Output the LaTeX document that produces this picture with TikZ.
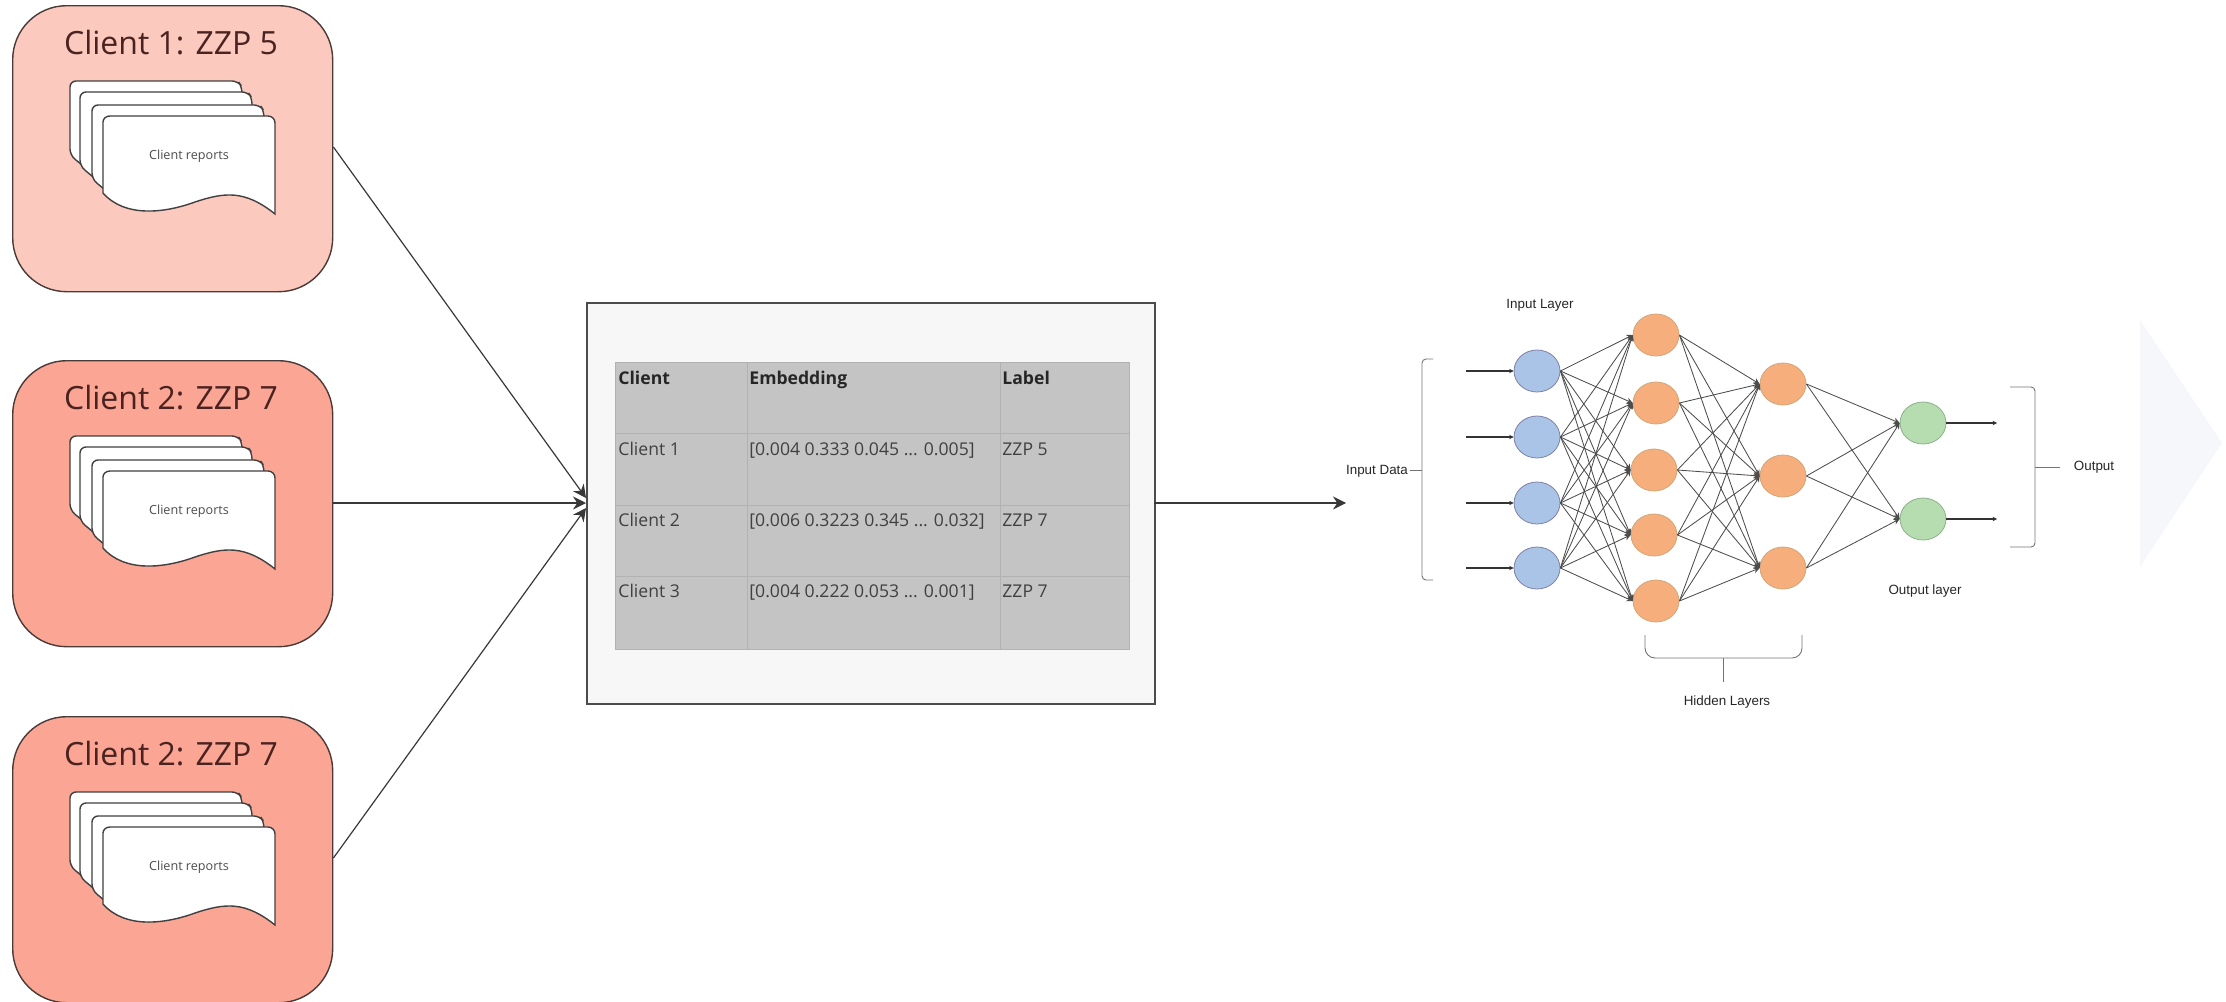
\documentclass[tikz,border=0pt]{standalone}
\usepackage{fontspec}
\setmainfont{Open Sans}
\newfontfamily\armo{Liberation Sans}
\usetikzlibrary{arrows.meta,shapes.geometric,calc}
\definecolor{paleA}{HTML}{FCC9BF}
\definecolor{paleB}{HTML}{FBA594}
\definecolor{edgeC}{HTML}{4A3A38}
\definecolor{titleC}{HTML}{4A2320}
\definecolor{blueN}{HTML}{A9C4E6}
\definecolor{orangeN}{HTML}{F6AE7C}
\definecolor{greenN}{HTML}{B5DDB0}
\definecolor{chevC}{HTML}{F6F7FA}
\tikzset{
 x=0.5pt,y=-0.5pt,
 clientbox/.style={draw=edgeC,line width=0.7pt,rounded corners=27pt},
 titletext/.style={text=titleC,font=\fontsize{16}{18}\selectfont,inner sep=0pt},
 sheet/.style={draw=black!75,line width=0.7pt,fill=white,rounded corners=3pt},
 smalltext/.style={text=black!70,font=\fontsize{6.3}{7}\selectfont,inner sep=0pt},
 tabletext/.style={text=black!75,font=\fontsize{8.8}{10}\selectfont,inner sep=0pt,anchor=base west},
 tablehead/.style={text=black!85,font=\fontsize{8.8}{10}\selectfont\bfseries,inner sep=0pt,anchor=base west},
 tableline/.style={draw=black!30,line width=0.3pt},
 conn/.style={draw=black!78,line width=0.6pt,-{Stealth[length=6.5pt,width=6.5pt]}},
 neuron/.style={ellipse,minimum width=23pt,minimum height=21pt,inner sep=0pt,line width=0.4pt},
 inN/.style={neuron,draw=blue!30!black!50,fill=blueN},
 hidN/.style={neuron,draw=brown!70,fill=orangeN},
 outN/.style={neuron,draw=green!30!black!45,fill=greenN},
 nnedge/.style={draw=black!70,line width=0.42pt,-{Stealth[length=3pt,width=3pt]}},
 nnarrow/.style={draw=black!80,line width=0.55pt,-{Stealth[length=2.2pt,width=2.2pt]}},
 brack/.style={draw=black!55,line width=0.45pt,rounded corners=2pt},
 nntext/.style={text=black!85,font=\armo\fontsize{6.7}{8}\selectfont,inner sep=0pt},
}
\newcommand{\clientpanel}[4]{% name, top y, fill, title
 \node[clientbox,fill=#3,minimum width=160pt,minimum height=143pt,inner sep=0pt,anchor=north west] (#1) at (12,#2) {};
 \node[titletext] at (171,{#2+38}) {#4};
 \begin{scope}[yshift={-(#2-5)*0.5pt}]
 \foreach \ox/\oy in {70/81,80/92,92/105}{
  \path[sheet] (\ox,\oy) -- ({\ox+168},\oy) -- ({\ox+172},{\oy+6}) -- ({\ox+172},{\oy+60})
    -- ({\ox+25},{\oy+95}) -- ({\ox},{\oy+74}) -- cycle;
 }
 \path[sheet,rounded corners=0pt]
   (103,193) -- (103,122) to[out=90,in=180] (110,116) -- (268,116) to[out=0,in=90] (275,123) -- (275,214)
   .. controls (245,190) and (225,192) .. (195,202)
   .. controls (165,213) and (125,218) .. (103,193);
 \node[smalltext] at (189,156) {Client reports};
 \end{scope}
}
\begin{document}
\begin{tikzpicture}
\useasboundingbox (0,0) rectangle (2226,1001);
\clientpanel{cA}{5}{paleA}{Client 1: ZZP 5}
\clientpanel{cB}{360}{paleB}{Client 2: ZZP 7}
\clientpanel{cC}{716}{paleB}{Client 2: ZZP 7}

% centre box
\node[draw=black!70,line width=0.8pt,fill=black!3,minimum width=284pt,minimum height=200.5pt,inner sep=0pt,anchor=north west] (store) at (586,302) {};
\coordinate (storeInA) at (586,498);
\coordinate (storeIn) at (586,503);
\coordinate (storeInB) at (586,508);
\coordinate (storeOut) at (1154,503);
\coordinate (nnIn) at (1346,503);
\draw[conn] (cA.east |- 0,147) -- (storeInA);
\draw[conn] (cB.east |- 0,503) -- (storeIn);
\draw[conn] (cC.east |- 0,858) -- (storeInB);
\draw[conn] (storeOut) -- (nnIn);

% table
\fill[black!23] (615,362) rectangle (1129,649);
\foreach \yy in {433,505,576}{\path[tableline] (615,\yy) -- (1129,\yy);}
\foreach \xx in {747,1000}{\path[tableline] (\xx,362) -- (\xx,649);}
\path[tableline] (615,362) rectangle (1129,649);
\node[tablehead] at (618,384) {Client};
\node[tablehead] at (749,384) {Embedding};
\node[tablehead] at (1002,384) {Label};
\node[tabletext] at (618,455.5) {Client 1};
\node[tabletext] at (749,455.5) {[0.004 0.333 0.045 ... 0.005]};
\node[tabletext] at (1002,455.5) {ZZP 5};
\node[tabletext] at (618,526.5) {Client 2};
\node[tabletext] at (749,526.5) {[0.006 0.3223 0.345 ... 0.032]};
\node[tabletext] at (1002,526.5) {ZZP 7};
\node[tabletext] at (618,597.5) {Client 3};
\node[tabletext] at (749,597.5) {[0.004 0.222 0.053 ... 0.001]};
\node[tabletext] at (1002,597.5) {ZZP 7};

% chevron
\fill[chevC] (2140,320) -- (2222,443) -- (2140,567) -- cycle;

% neurons
\foreach \n/\yy in {1/371,2/437,3/503,4/568}{\node[inN] (i\n) at (1537,\yy) {};}
\foreach \n/\xx/\yy in {1/1656/335,2/1656/403,3/1654/470,4/1654/535,5/1656/601}{\node[hidN] (h\n) at (\xx,\yy) {};}
\foreach \n/\yy in {1/384,2/476,3/568}{\node[hidN] (k\n) at (1783,\yy) {};}
\foreach \n/\yy in {1/423,2/519}{\node[outN] (o\n) at (1923,\yy) {};}
\foreach \a in {1,2,3,4}{\foreach \b in {1,...,5}{\draw[nnedge] (i\a.east) -- (h\b.west);}}
\foreach \a in {1,...,5}{\foreach \b in {1,2,3}{\draw[nnedge] (h\a.east) -- (k\b.west);}}
\foreach \a in {1,2,3}{\foreach \b in {1,2}{\draw[nnedge] (k\a.east) -- (o\b.west);}}
\foreach \n/\yy in {1/371,2/437,3/503,4/568}{
 \coordinate (s\n) at (1466,\yy);
 \draw[nnarrow] (s\n) -- (i\n.west);}
\foreach \n/\yy in {1/423,2/519}{
 \coordinate (e\n) at (1997,\yy);
 \draw[nnarrow] (o\n.east) -- (e\n);}

% brackets
\coordinate (ba) at (1433,359); \coordinate (bb) at (1433,580);
\coordinate (bc) at (1422,470); \coordinate (bd) at (1410,470);
\draw[brack] (ba) -| (1422,580) -- (bb);
\draw[brack] (bc) -- (bd);
\coordinate (ha) at (1645,635); \coordinate (hb) at (1802,635);
\draw[brack,rounded corners=5pt] (ha) |- (hb |- 0,658) -- (hb);
\coordinate (hm) at (1723,658); \coordinate (hn) at (1723,682);
\draw[brack] (hm) -- (hn);
\coordinate (oa) at (2010,387); \coordinate (ob) at (2010,547);
\draw[brack] (oa) -| (2035,547) -- (ob);
\coordinate (om) at (2035,467); \coordinate (on) at (2060,467);
\draw[brack] (om) -- (on);

% nn labels
\node[nntext] at (1540,305) {Input Layer};
\node[nntext] at (1377,471) {Input Data};
\node[nntext] at (1727,702) {Hidden Layers};
\node[nntext] at (2094,467) {Output};
\node[nntext] at (1925,591) {Output layer};
\end{tikzpicture}
\end{document}
